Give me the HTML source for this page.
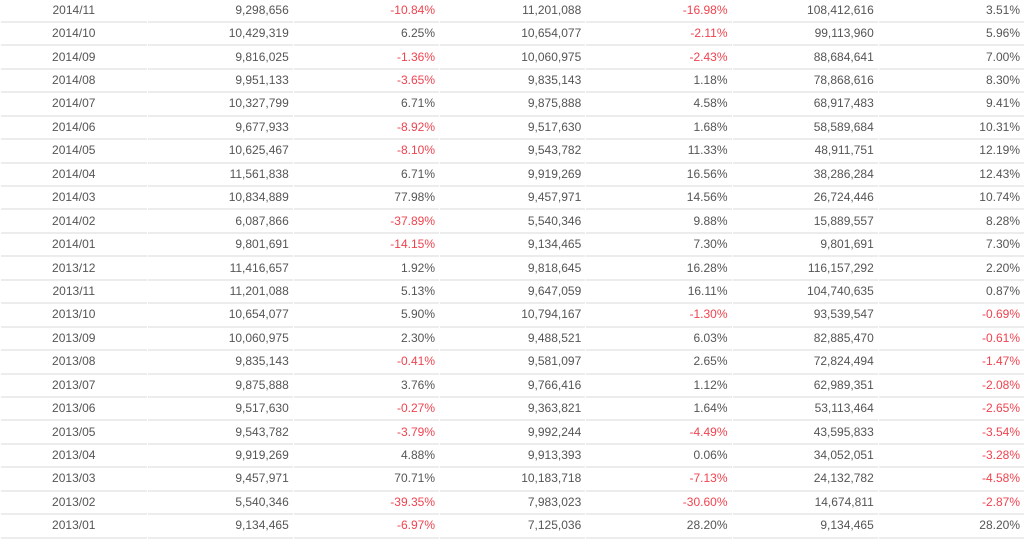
<!DOCTYPE html>
<html><head><meta charset="utf-8"><style>
html,body{margin:0;padding:0;background:#fff;width:1024px;height:538px;overflow:hidden}
table{position:absolute;left:0;top:-0.5px;width:1025px;table-layout:fixed;border-collapse:separate;border-spacing:1px 0;font-family:"Liberation Sans",Arial,sans-serif;font-size:12px;color:#555}
td{height:23.45px;box-sizing:border-box;border-bottom:2px solid #ececec;padding:0 4px 0 0;text-align:right;white-space:nowrap;line-height:21px}
td:first-child{text-align:center;padding:0}
.r{color:#f0434f}
</style></head><body>
<table>
<colgroup><col style="width:145.5px"><col><col><col><col><col><col></colgroup>
<tr><td>2014/11</td><td>9,298,656</td><td class="r">-10.84%</td><td>11,201,088</td><td class="r">-16.98%</td><td>108,412,616</td><td>3.51%</td></tr>
<tr><td>2014/10</td><td>10,429,319</td><td>6.25%</td><td>10,654,077</td><td class="r">-2.11%</td><td>99,113,960</td><td>5.96%</td></tr>
<tr><td>2014/09</td><td>9,816,025</td><td class="r">-1.36%</td><td>10,060,975</td><td class="r">-2.43%</td><td>88,684,641</td><td>7.00%</td></tr>
<tr><td>2014/08</td><td>9,951,133</td><td class="r">-3.65%</td><td>9,835,143</td><td>1.18%</td><td>78,868,616</td><td>8.30%</td></tr>
<tr><td>2014/07</td><td>10,327,799</td><td>6.71%</td><td>9,875,888</td><td>4.58%</td><td>68,917,483</td><td>9.41%</td></tr>
<tr><td>2014/06</td><td>9,677,933</td><td class="r">-8.92%</td><td>9,517,630</td><td>1.68%</td><td>58,589,684</td><td>10.31%</td></tr>
<tr><td>2014/05</td><td>10,625,467</td><td class="r">-8.10%</td><td>9,543,782</td><td>11.33%</td><td>48,911,751</td><td>12.19%</td></tr>
<tr><td>2014/04</td><td>11,561,838</td><td>6.71%</td><td>9,919,269</td><td>16.56%</td><td>38,286,284</td><td>12.43%</td></tr>
<tr><td>2014/03</td><td>10,834,889</td><td>77.98%</td><td>9,457,971</td><td>14.56%</td><td>26,724,446</td><td>10.74%</td></tr>
<tr><td>2014/02</td><td>6,087,866</td><td class="r">-37.89%</td><td>5,540,346</td><td>9.88%</td><td>15,889,557</td><td>8.28%</td></tr>
<tr><td>2014/01</td><td>9,801,691</td><td class="r">-14.15%</td><td>9,134,465</td><td>7.30%</td><td>9,801,691</td><td>7.30%</td></tr>
<tr><td>2013/12</td><td>11,416,657</td><td>1.92%</td><td>9,818,645</td><td>16.28%</td><td>116,157,292</td><td>2.20%</td></tr>
<tr><td>2013/11</td><td>11,201,088</td><td>5.13%</td><td>9,647,059</td><td>16.11%</td><td>104,740,635</td><td>0.87%</td></tr>
<tr><td>2013/10</td><td>10,654,077</td><td>5.90%</td><td>10,794,167</td><td class="r">-1.30%</td><td>93,539,547</td><td class="r">-0.69%</td></tr>
<tr><td>2013/09</td><td>10,060,975</td><td>2.30%</td><td>9,488,521</td><td>6.03%</td><td>82,885,470</td><td class="r">-0.61%</td></tr>
<tr><td>2013/08</td><td>9,835,143</td><td class="r">-0.41%</td><td>9,581,097</td><td>2.65%</td><td>72,824,494</td><td class="r">-1.47%</td></tr>
<tr><td>2013/07</td><td>9,875,888</td><td>3.76%</td><td>9,766,416</td><td>1.12%</td><td>62,989,351</td><td class="r">-2.08%</td></tr>
<tr><td>2013/06</td><td>9,517,630</td><td class="r">-0.27%</td><td>9,363,821</td><td>1.64%</td><td>53,113,464</td><td class="r">-2.65%</td></tr>
<tr><td>2013/05</td><td>9,543,782</td><td class="r">-3.79%</td><td>9,992,244</td><td class="r">-4.49%</td><td>43,595,833</td><td class="r">-3.54%</td></tr>
<tr><td>2013/04</td><td>9,919,269</td><td>4.88%</td><td>9,913,393</td><td>0.06%</td><td>34,052,051</td><td class="r">-3.28%</td></tr>
<tr><td>2013/03</td><td>9,457,971</td><td>70.71%</td><td>10,183,718</td><td class="r">-7.13%</td><td>24,132,782</td><td class="r">-4.58%</td></tr>
<tr><td>2013/02</td><td>5,540,346</td><td class="r">-39.35%</td><td>7,983,023</td><td class="r">-30.60%</td><td>14,674,811</td><td class="r">-2.87%</td></tr>
<tr><td>2013/01</td><td>9,134,465</td><td class="r">-6.97%</td><td>7,125,036</td><td>28.20%</td><td>9,134,465</td><td>28.20%</td></tr>
</table>
</body></html>
